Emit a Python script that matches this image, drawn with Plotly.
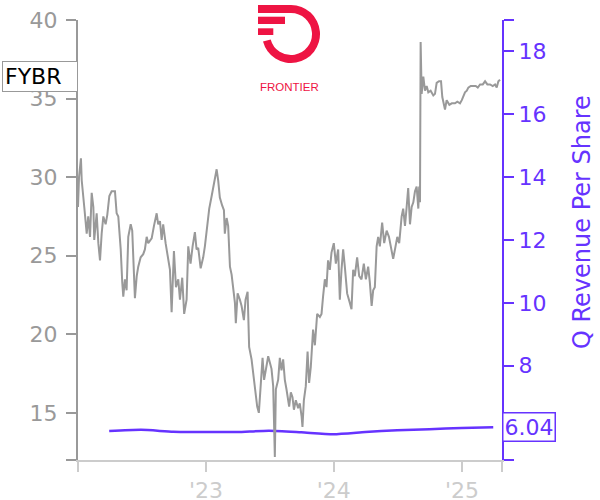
import base64
import pandas as pd
import plotly.graph_objects as go

# ---------------- data ----------------
ticker = "FYBR"
company = "FRONTIER"

# share price (decimal years, USD)
price_t = [
    2022.000, 2022.008, 2022.023, 2022.029, 2022.049, 2022.068, 2022.080, 2022.094, 2022.107, 2022.120,
    2022.127, 2022.146, 2022.159, 2022.172, 2022.185, 2022.198, 2022.216, 2022.229, 2022.245, 2022.263,
    2022.289, 2022.302, 2022.315, 2022.334, 2022.346, 2022.354, 2022.367, 2022.380, 2022.393, 2022.412,
    2022.424, 2022.438, 2022.445, 2022.459, 2022.471, 2022.490, 2022.510, 2022.523, 2022.537, 2022.549,
    2022.576, 2022.594, 2022.615, 2022.627, 2022.641, 2022.654, 2022.666, 2022.685, 2022.705, 2022.719,
    2022.732, 2022.750, 2022.766, 2022.784, 2022.797, 2022.815, 2022.830, 2022.849, 2022.862, 2022.880,
    2022.896, 2022.914, 2022.927, 2022.940, 2022.959, 2022.979, 2022.992, 2023.010, 2023.026, 2023.045,
    2023.057, 2023.070, 2023.084, 2023.096, 2023.109, 2023.127, 2023.141, 2023.148, 2023.162, 2023.174,
    2023.188, 2023.201, 2023.213, 2023.227, 2023.234, 2023.248, 2023.266, 2023.279, 2023.297, 2023.310,
    2023.326, 2023.338, 2023.357, 2023.383, 2023.401, 2023.414, 2023.427, 2023.443, 2023.455, 2023.474,
    2023.487, 2023.500, 2023.513, 2023.526, 2023.539, 2023.547, 2023.565, 2023.578, 2023.591, 2023.604,
    2023.617, 2023.630, 2023.651, 2023.664, 2023.677, 2023.688, 2023.703, 2023.721, 2023.734, 2023.748,
    2023.755, 2023.766, 2023.781, 2023.795, 2023.807, 2023.820, 2023.838, 2023.852, 2023.870, 2023.891,
    2023.904, 2023.916, 2023.930, 2023.943, 2023.955, 2023.969, 2023.982, 2024.000, 2024.016, 2024.034,
    2024.047, 2024.060, 2024.073, 2024.086, 2024.104, 2024.125, 2024.138, 2024.151, 2024.164, 2024.182,
    2024.198, 2024.216, 2024.234, 2024.250, 2024.268, 2024.281, 2024.295, 2024.307, 2024.320, 2024.334,
    2024.346, 2024.359, 2024.377, 2024.393, 2024.412, 2024.430, 2024.451, 2024.463, 2024.477, 2024.495,
    2024.510, 2024.529, 2024.541, 2024.555, 2024.568, 2024.580, 2024.594, 2024.607, 2024.620, 2024.633,
    2024.646, 2024.659, 2024.666, 2024.672, 2024.677, 2024.685, 2024.698, 2024.711, 2024.724, 2024.737,
    2024.755, 2024.776, 2024.789, 2024.802, 2024.820, 2024.836, 2024.846, 2024.854, 2024.867, 2024.880,
    2024.901, 2024.920, 2024.945, 2024.963, 2024.984, 2024.998, 2025.010, 2025.023, 2025.037, 2025.049,
    2025.068, 2025.088, 2025.107, 2025.123, 2025.141, 2025.162, 2025.180, 2025.198, 2025.219, 2025.240,
    2025.258, 2025.271, 2025.284, 2025.297,
]
price = [
    28.1, 30.0, 31.2, 29.8, 28.1, 26.4, 27.5, 26.2, 29.0, 28.1,
    26.0, 27.7, 25.8, 24.7, 26.4, 27.5, 27.0, 27.6, 28.8, 29.1,
    29.1, 27.7, 27.5, 25.4, 23.3, 22.4, 23.5, 22.8, 26.2, 27.0,
    26.6, 23.3, 22.3, 23.7, 24.3, 24.9, 25.1, 25.4, 26.2, 25.8,
    26.1, 26.9, 27.7, 27.0, 27.2, 26.0, 27.0, 25.8, 24.7, 24.1,
    21.4, 25.3, 23.0, 23.5, 22.2, 23.6, 21.3, 22.2, 25.6, 24.5,
    25.6, 26.5, 25.4, 25.5, 24.2, 24.9, 25.6, 26.9, 28.0, 28.8,
    29.4, 29.8, 30.5, 29.8, 28.7, 28.2, 27.9, 26.4, 27.4, 26.9,
    24.3, 23.8, 23.0, 22.0, 20.7, 22.6, 22.2, 21.8, 20.9, 22.2,
    22.7, 19.2, 18.4, 16.7, 15.4, 15.0, 16.7, 18.5, 17.1, 17.9,
    18.6, 18.2, 17.8, 16.7, 12.2, 16.5, 17.1, 18.5, 17.7, 18.4,
    17.1, 16.5, 15.4, 16.3, 16.0, 15.2, 15.8, 15.3, 15.6, 14.8,
    14.1, 15.8, 16.7, 18.9, 16.9, 17.9, 20.3, 19.3, 21.3, 21.1,
    21.3, 22.4, 23.5, 23.0, 24.7, 24.1, 25.2, 25.8, 24.5, 25.4,
    22.2, 24.1, 25.4, 24.3, 22.6, 22.0, 21.6, 24.1, 23.7, 24.9,
    23.7, 23.5, 24.5, 23.5, 24.3, 23.3, 21.8, 22.8, 23.0, 25.6,
    26.2, 25.6, 27.1, 25.8, 26.6, 26.2, 25.4, 24.8, 25.4, 26.2,
    25.8, 27.5, 28.0, 26.9, 28.1, 29.3, 27.0, 28.1, 28.4, 29.1,
    29.4, 28.0, 29.4, 28.4, 38.6, 35.3, 36.4, 35.5, 35.8, 35.4,
    35.5, 35.2, 35.3, 36.0, 36.1, 36.1, 35.1, 34.7, 34.3, 34.9,
    34.6, 34.7, 34.7, 34.8, 34.7, 34.9, 35.2, 35.4, 35.5, 35.7,
    35.8, 35.8, 35.8, 35.7, 35.9, 35.9, 36.1, 35.9, 35.9, 35.8,
    35.9, 35.7, 36.1, 36.2,
]

# quarterly revenue per share
rev_dates = ["2022-03-31", "2022-06-30", "2022-09-30", "2022-12-31", "2023-03-31",
             "2023-06-30", "2023-09-30", "2023-12-31", "2024-03-31", "2024-06-30",
             "2024-09-30", "2024-12-31", "2025-03-31"]
rev_values = [5.92, 5.96, 5.90, 5.89, 5.89, 5.93, 5.88, 5.82, 5.89, 5.95, 5.98, 6.02, 6.04]

x_ticks = ["2023-01-01", "2024-01-01", "2025-01-01"]
x_tick_labels = ["'23", "'24", "'25"]
x_range = ["2022-01-01", "2025-04-25"]
price_ticks = [15, 20, 25, 30, 35, 40]
price_range = [12, 40]
rev_ticks = [8, 10, 12, 14, 16, 18]
rev_range = [5, 19]

# ---------------- helpers ----------------
def dec_year_to_date(t):
    y = int(t)
    start = pd.Timestamp(year=y, month=1, day=1)
    days = (pd.Timestamp(year=y + 1, month=1, day=1) - start).days
    return start + pd.Timedelta(days=(t - y) * days)

price_dates = [dec_year_to_date(t) for t in price_t]

PURPLE = "#6633FF"
GREY = "#999999"
LIGHT = "#cccccc"
RED = "#EE1443"
FONT = "DejaVu Sans"
TICK_SIZE = 22

fig = go.Figure()
fig.add_trace(go.Scatter(x=rev_dates, y=rev_values, mode="lines", yaxis="y",
                         line=dict(color=PURPLE, width=2.5, shape="spline", smoothing=0.6),
                         hoverinfo="skip"))
fig.add_trace(go.Scatter(x=price_dates, y=price, mode="lines", yaxis="y2",
                         line=dict(color=GREY, width=2), hoverinfo="skip"))

fig.update_layout(
    width=600, height=500,
    margin=dict(l=78, r=98, t=20, b=40, autoexpand=False),
    plot_bgcolor="white", paper_bgcolor="white",
    showlegend=False,
    font=dict(family=FONT, size=TICK_SIZE),
    xaxis=dict(
        type="date", range=x_range,
        tickvals=[x_range[0]] + x_ticks + [x_range[1]],
        ticktext=[""] + x_tick_labels + [""],
        showline=True, linecolor=LIGHT, linewidth=2,
        ticks="outside", ticklen=10, tickwidth=2, tickcolor=LIGHT,
        tickfont=dict(size=TICK_SIZE, color=LIGHT, family=FONT),
        showgrid=False, zeroline=False,
    ),
    yaxis=dict(
        side="right", range=rev_range,
        tickvals=[rev_range[0]] + rev_ticks + [rev_range[1]],
        ticktext=[""] + [str(v) for v in rev_ticks] + [""],
        showline=True, linecolor=PURPLE, linewidth=2,
        ticks="outside", ticklen=10, tickwidth=2, tickcolor=PURPLE,
        tickfont=dict(size=TICK_SIZE, color=PURPLE, family=FONT),
        showgrid=False, zeroline=False,
    ),
    yaxis2=dict(
        side="left", overlaying="y", range=price_range,
        tickvals=[price_range[0]] + price_ticks,
        ticktext=[""] + [str(v) for v in price_ticks],
        showline=True, linecolor=GREY, linewidth=2,
        ticks="outside", ticklen=10, tickwidth=2, tickcolor=GREY,
        tickfont=dict(size=TICK_SIZE, color=GREY, family=FONT),
        ticklabelstandoff=4,
        showgrid=False, zeroline=False,
    ),
)

fig.add_annotation(xref="paper", x=0, xanchor="right", yref="y2", y=price[-1], yshift=3,
                   text=ticker, showarrow=False, align="left", width=70,
                   font=dict(size=22, color="black", family=FONT),
                   bordercolor=GREY, borderwidth=1, borderpad=2, bgcolor="white")
fig.add_annotation(xref="paper", x=1, xanchor="left", yref="y", y=rev_values[-1],
                   text=f"{rev_values[-1]:.2f}", showarrow=False,
                   font=dict(size=22, color=PURPLE, family=FONT),
                   bordercolor=PURPLE, borderwidth=1.5, borderpad=1, bgcolor="white")
fig.add_annotation(xref="paper", x=(582 - 78) / 424, yref="paper", y=(460 - 222) / 440,
                   xanchor="center", yanchor="middle",
                   text="Q Revenue Per Share", textangle=-90, showarrow=False,
                   font=dict(size=24, color=PURPLE, family=FONT))
fig.add_annotation(xref="paper", x=(289.5 - 78) / 424, yref="paper", y=(460 - 79) / 440,
                   text=company, showarrow=False,
                   font=dict(size=11.5, color=RED, family="Liberation Sans"))

svg = (
    '<svg xmlns="http://www.w3.org/2000/svg" width="66" height="66" viewBox="0 0 66 66">'
    f'<path fill="{RED}" d="M2 5 H35 A29 29 0 1 1 7.0 41.5 L14.7 39.4 A21 21 0 1 0 35 13 H2 Z"/>'
    f'<rect x="2" y="16.7" width="27" height="7.3" fill="{RED}"/>'
    f'<rect x="2" y="28.3" width="15.3" height="6.7" fill="{RED}"/>'
    '</svg>'
)
src = "data:image/svg+xml;base64," + base64.b64encode(svg.encode()).decode()
fig.add_layout_image(dict(source=src, xref="paper", yref="paper",
                          x=(256 - 78) / 424, y=(460 - 0) / 440,
                          sizex=66 / 424, sizey=66 / 440,
                          xanchor="left", yanchor="top", sizing="stretch", layer="above"))

fig.write_html("out.html", config={"displayModeBar": False},
               post_script="document.body.style.margin='0px';document.body.style.padding='0px';")
